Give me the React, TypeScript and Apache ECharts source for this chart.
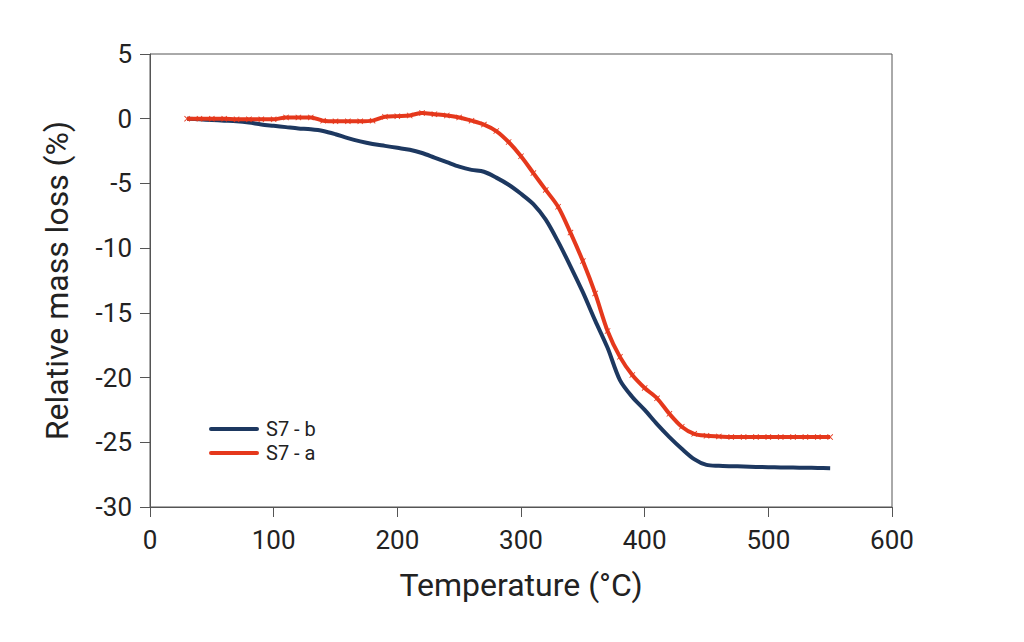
import React, { useEffect, useRef } from "react";
import * as echarts from "echarts";

const temps = [30, 40, 50, 60, 70, 80, 90, 100, 110, 120, 130, 140, 150, 160, 170, 180, 190, 200, 210, 220, 230, 240, 250, 260, 270, 280, 290, 300, 310, 320, 330, 340, 350, 360, 370, 380, 390, 400, 410, 420, 430, 440, 450, 460, 470, 480, 490, 500, 510, 520, 530, 540, 550];

const s7b = [0, -0.05, -0.1, -0.15, -0.2, -0.3, -0.45, -0.55, -0.65, -0.75, -0.82, -0.95, -1.2, -1.5, -1.75, -1.95, -2.1, -2.25, -2.4, -2.65, -3.0, -3.35, -3.7, -3.95, -4.1, -4.55, -5.1, -5.8, -6.6, -7.8, -9.5, -11.4, -13.4, -15.6, -17.7, -20.2, -21.5, -22.5, -23.6, -24.6, -25.5, -26.3, -26.75, -26.82, -26.85, -26.87, -26.9, -26.92, -26.94, -26.95, -26.97, -26.98, -27.0];

const s7a = [0, 0, 0, 0, -0.05, -0.05, -0.05, -0.05, 0.1, 0.1, 0.1, -0.15, -0.2, -0.2, -0.2, -0.15, 0.15, 0.2, 0.25, 0.45, 0.35, 0.25, 0.1, -0.15, -0.45, -0.95, -1.8, -2.9, -4.2, -5.5, -6.8, -8.8, -11.0, -13.5, -16.4, -18.4, -19.8, -20.8, -21.6, -22.8, -23.8, -24.35, -24.5, -24.55, -24.6, -24.6, -24.6, -24.6, -24.6, -24.6, -24.6, -24.6, -24.6];

const xTicks = [0, 100, 200, 300, 400, 500, 600];
const yTicks = [5, 0, -5, -10, -15, -20, -25, -30];

const FONT = "Roboto, 'Noto Sans', sans-serif";
const BLUE = "#1d3860";
const RED = "#e5381c";
const CROSS = "path://M0,1 L1,0 L5,4 L9,0 L10,1 L6,5 L10,9 L9,10 L5,6 L1,10 L0,9 L4,5 Z";
const BAR_ICON = "path://M2,0 L48,0 A2,2 0 0 1 48,4 L2,4 A2,2 0 0 1 2,0 Z";

export default function App() {
  const ref = useRef<HTMLDivElement>(null);
  useEffect(() => {
    document.body.style.margin = "0";
    if (!ref.current) return;
    const chart = echarts.init(ref.current, null, { renderer: "svg" });
    chart.setOption({
      animation: false,
      backgroundColor: "#ffffff",
      textStyle: { fontFamily: FONT },
      grid: { left: 150, top: 54, right: 132, bottom: 135, show: true, borderColor: "#555", borderWidth: 1, backgroundColor: "transparent" },
      legend: {
        orient: "vertical",
        left: 204,
        top: 414,
        itemWidth: 50,
        itemHeight: 5,
        itemGap: 4,
        textStyle: { fontSize: 20, color: "#222", fontFamily: FONT, padding: [0, 0, 0, 2] },
        data: [
          { name: "S7 - b", icon: BAR_ICON },
          { name: "S7 - a", icon: BAR_ICON },
        ],
      },
      xAxis: {
        type: "value",
        min: xTicks[0],
        max: xTicks[xTicks.length - 1],
        interval: 100,
        name: "Temperature (°C)",
        nameLocation: "middle",
        nameGap: 62,
        nameTextStyle: { fontSize: 32, color: "#222", fontFamily: FONT },
        axisLine: { show: true, onZero: false, lineStyle: { color: "#555", width: 1 } },
        axisTick: { show: true, inside: false, length: 10, lineStyle: { color: "#555" } },
        axisLabel: { fontSize: 26, color: "#222", margin: 20, fontFamily: FONT, formatter: (v: number) => String(v) },
        splitLine: { show: false },
      },
      yAxis: {
        type: "value",
        min: yTicks[yTicks.length - 1],
        max: yTicks[0],
        interval: 5,
        name: "Relative mass loss (%)",
        nameLocation: "middle",
        nameGap: 77,
        nameTextStyle: { fontSize: 32, color: "#222", fontFamily: FONT },
        axisLine: { show: true, onZero: false, lineStyle: { color: "#555", width: 1 } },
        axisTick: { show: true, inside: false, length: 10, lineStyle: { color: "#555" } },
        axisLabel: { fontSize: 26, color: "#222", margin: 18, fontFamily: FONT, formatter: (v: number) => String(v) },
        splitLine: { show: false },
      },
      series: [
        {
          name: "S7 - b",
          type: "line",
          data: temps.map((t, i) => [t, s7b[i]]),
          smooth: 0.3,
          showSymbol: false,
          symbol: "none",
          lineStyle: { color: BLUE, width: 4 },
          itemStyle: { color: BLUE },
          z: 2,
        },
        {
          name: "S7 - a",
          type: "line",
          data: temps.map((t, i) => [t, s7a[i]]),
          smooth: 0.3,
          showSymbol: true,
          symbol: CROSS,
          symbolSize: 6,
          lineStyle: { color: RED, width: 4 },
          itemStyle: { color: RED },
          z: 3,
        },
      ],
    });
    return () => chart.dispose();
  }, []);
  return <div ref={ref} style={{ width: 1024, height: 642 }} />;
}
